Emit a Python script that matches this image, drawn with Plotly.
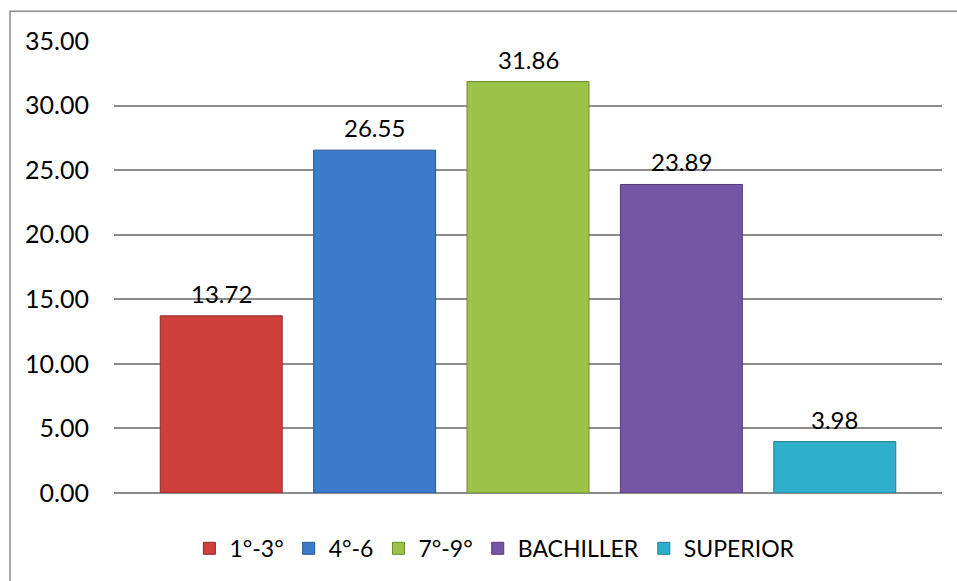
import plotly.graph_objects as go

categories = ["1°-3°", "4°-6", "7°-9°", "BACHILLER", "SUPERIOR"]
values = [13.72, 26.55, 31.86, 23.89, 3.98]
colors = ["#cf403c", "#3c7bcb", "#9cc248", "#7755a6", "#2eb0cc"]
edges = ["#8e2a27", "#2a5790", "#6a8a2a", "#54397a", "#1f7d91"]
tick_vals = [0, 5, 10, 15, 20, 25, 30, 35]
tick_text = ["%.2f" % v for v in tick_vals]

FONT = "Lato, Carlito, Calibri, sans-serif"

fig = go.Figure()
for cat, val, col, edge in zip(categories, values, colors, edges):
    fig.add_trace(go.Bar(
        x=[cat], y=[val], name=cat,
        marker=dict(color=col, line=dict(color=edge, width=1)),
        hoverinfo="skip",
    ))
    fig.add_annotation(x=cat, y=val, text="%.2f" % val, showarrow=False,
                       yanchor="bottom", yshift=6,
                       font=dict(size=24, color="#000000", family=FONT))

fig.update_layout(
    width=957, height=581,
    margin=dict(l=114, r=15, t=41, b=87),
    paper_bgcolor="white", plot_bgcolor="white",
    barmode="relative", bargap=0.205,
    font=dict(family=FONT, size=24, color="#000000"),
    showlegend=True,
    legend=dict(orientation="h", x=0.46, xanchor="center", y=-0.12, yanchor="middle",
                font=dict(size=23, family=FONT), itemwidth=30, traceorder="normal"),
    shapes=[dict(type="rect", xref="paper", yref="paper",
                 x0=-0.1256, x1=1.08, y0=-0.3, y1=1.066,
                 line=dict(color="#8c8c8c", width=1.5), fillcolor="rgba(0,0,0,0)",
                 layer="below")],
)
fig.update_xaxes(showticklabels=False, showgrid=False, zeroline=False,
                 showline=False, ticks="", range=[-0.699, 4.699])
fig.update_yaxes(range=[0, 35], tickvals=tick_vals, ticktext=tick_text,
                 showgrid=True, gridcolor="#8c8c8c", gridwidth=1.5,
                 zeroline=True, zerolinecolor="#8c8c8c", zerolinewidth=1.5,
                 showline=False, ticks="", ticklabelstandoff=24,
                 tickfont=dict(size=25, family=FONT))

fig.write_html("out.html",
               config={"displayModeBar": False},
               post_script="document.body.style.margin='0';document.body.style.overflow='hidden';")
